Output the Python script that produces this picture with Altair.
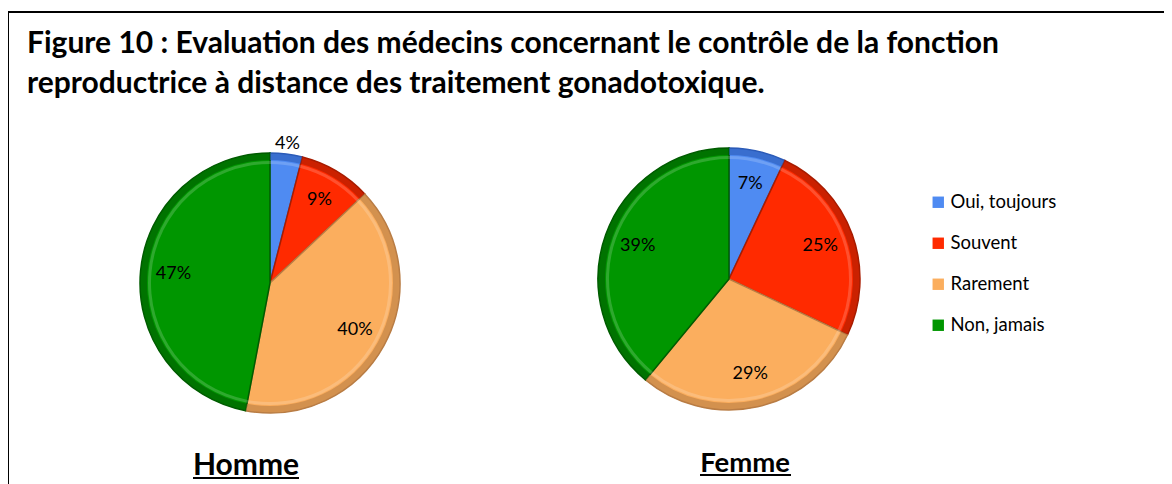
import altair as alt
import pandas as pd

# ---- data ----
categories = ["Oui, toujours", "Souvent", "Rarement", "Non, jamais"]
homme = [4, 9, 40, 47]
femme = [7, 25, 29, 39]
groups = ["Homme", "Femme"]
title_lines = [
    "Figure 10 : Evaluation des médecins concernant le contrôle de la fonction",
    "reproductrice à distance des traitement gonadotoxique.",
]

main_colors = ["#4F8BF2", "#FF2A00", "#FBAE5E", "#009600"]
dark_colors = ["#2C5BB8", "#A81C00", "#B97D45", "#005C00"]

rows = []
for g, vals in zip(groups, [homme, femme]):
    for i, (c, v) in enumerate(zip(categories, vals)):
        rows.append({"sexe": g, "cat": c, "pct": v, "ordre": i, "label": f"{v}%"})
df = pd.DataFrame(rows)

W, H = 1156, 476
FONT = "Lato"

color_main = alt.Color(
    "cat:N",
    scale=alt.Scale(domain=categories, range=main_colors),
    legend=alt.Legend(
        title=None, orient="none", legendX=921, legendY=185,
        symbolType="square", symbolSize=130, symbolStrokeWidth=0,
        labelFontSize=18.5, labelFont=FONT, labelColor="black",
        rowPadding=22, labelOffset=3,
    ),
)
stroke_dark = alt.Stroke("cat:N", scale=alt.Scale(domain=categories, range=dark_colors), legend=None)
fill_dark = alt.Fill("cat:N", scale=alt.Scale(domain=categories, range=dark_colors), legend=None)


def pie(sex, cx, cy, r):
    base = alt.Chart(df).transform_filter(alt.datum.sexe == sex)
    arcs = base.encode(
        theta=alt.Theta("pct:Q", stack=True),
        order=alt.Order("ordre:Q"),
        x=alt.value(cx),
        y=alt.value(cy),
    )
    main = arcs.mark_arc(radius=r, strokeWidth=1.5).encode(color=color_main, stroke=stroke_dark)
    ring = arcs.mark_arc(radius=r, radius2=r - 7, opacity=0.6).encode(fill=fill_dark)
    shine = arcs.mark_arc(radius=r - 8, radius2=r - 11, color="white", opacity=0.18)
    labels = (
        base.transform_window(cum="sum(pct)", frame=[None, 0], sort=[alt.SortField("ordre")])
        .transform_calculate(
            mid="(datum.cum - datum.pct / 2) / 100 * 2 * PI",
            lr="datum.pct < 5 ? 140 : 97",
        )
        .mark_text(fontSize=18, font=FONT, color="black")
        .encode(
            theta=alt.Theta("mid:Q", scale=None, stack=False),
            radius=alt.Radius("lr:Q", scale=None),
            x=alt.value(cx),
            y=alt.value(cy),
            text="label:N",
        )
    )
    return [main, ring, shine, labels]


one = pd.DataFrame({"k": [0]})


def text_at(txt, x, y, size, weight="normal", align="left"):
    return alt.Chart(one).mark_text(
        text=txt, fontSize=size, font=FONT, fontWeight=weight,
        align=align, baseline="alphabetic", color="black",
    ).encode(x=alt.value(x), y=alt.value(y))


def rule(x1, x2, y1, y2, w):
    return alt.Chart(one).mark_rule(color="black", strokeWidth=w).encode(
        x=alt.value(x1), x2=alt.value(x2), y=alt.value(y1), y2=alt.value(y2)
    )


layers = []
layers += [rule(0, W, 4, 4, 2), rule(0, 0, 4, H, 2)]
layers += [text_at(title_lines[0], 19, 45, 30, "bold"), text_at(title_lines[1], 19, 85, 30, "bold")]
layers += pie("Homme", 262, 275, 130)
layers += pie("Femme", 721, 271, 131)
layers += [text_at("Homme", 238, 467, 30, "bold", "center"), rule(185, 291, 470, 470, 2)]
layers += [text_at("Femme", 737, 464, 27.5, "bold", "center"), rule(692, 783, 467, 467, 2)]

chart = (
    alt.layer(*layers)
    .properties(width=W, height=H, padding=0, autosize=alt.AutoSizeParams(type="none"))
    .configure_view(stroke=None)
)

chart.save("out.html", embed_options={"renderer": "svg", "actions": False})
